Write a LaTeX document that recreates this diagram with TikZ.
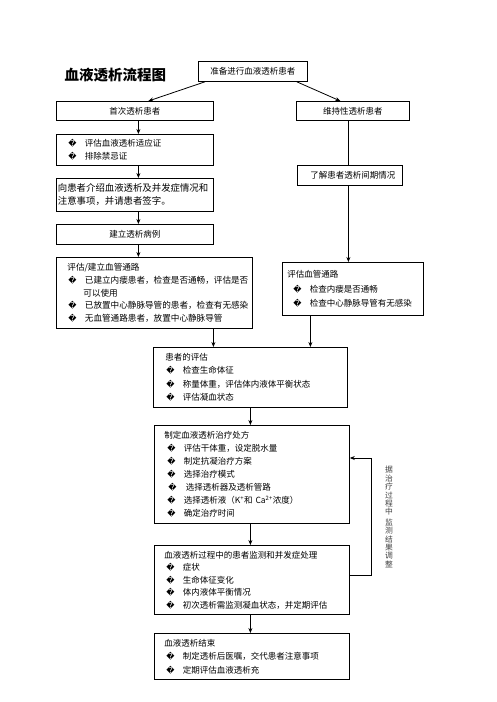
\documentclass[tikz,border=0pt]{standalone}
\usepackage{fontspec}
\setmainfont{Noto Sans CJK SC}
\newfontfamily\dejavu{DejaVu Sans}
\usetikzlibrary{arrows.meta,calc}
\newcommand\bul[1][2pt]{\hspace*{#1}\makebox[16.5pt][l]{\dejavu\fontsize{8}{8}\selectfont �}}
\begin{document}
\begin{tikzpicture}[x=1pt,y=-1pt,
  box/.style={draw,line width=0.8pt,anchor=north west,inner ysep=0pt,font=\fontsize{8.5}{13}\selectfont},
  cbox/.style={box,align=center,inner xsep=0pt},
  lbox/.style={box,align=left},
  arr/.style={line width=0.8pt,-{Stealth[length=5pt,width=4pt]}},
  ln/.style={line width=0.8pt}]
\useasboundingbox (0,0) rectangle (497,702);
\node[anchor=west,font=\fontsize{14.5}{15}\selectfont\bfseries] (title) at (61,75) {血液透析流程图};
\node[cbox,minimum width=109pt,minimum height=20pt] (start) at (198,61) {准备进行血液透析患者};
\node[cbox,minimum width=157pt,minimum height=19pt] (first) at (56,101) {首次透析患者};
\node[cbox,minimum width=113pt,minimum height=19pt] (maint) at (296,101) {维持性透析患者};
\node[lbox,inner xsep=10pt,text width=137pt,minimum height=31pt] (eval1) at (56,134)
  {\bul[2pt]评估血液透析适应证\\\bul[2pt]排除禁忌证};
\node[lbox,inner xsep=1.5pt,text width=154pt,minimum height=33pt,font=\fontsize{9.4}{13}\selectfont] (intro) at (56,178)
  {向患者介绍血液透析及并发症情况和\\注意事项，并请患者签字。};
\node[cbox,minimum width=157pt,minimum height=20pt] (record) at (56,224) {建立透析病例};
\node[cbox,minimum width=105pt,minimum height=20pt] (learn) at (297,165) {\hspace*{6pt}了解患者透析间期情况};
\node[lbox,inner xsep=2pt,text width=192pt,minimum height=71pt,font=\fontsize{8.6}{12.8}\selectfont] (acc1) at (56,257)
  {\hspace*{9pt}评估/建立血管通路\\\bul[10pt]已建立内瘘患者，检查是否通畅，评估是否\\\hspace*{25pt}可以使用\\\bul[10pt]已放置中心静脉导管的患者，检查有无感染\\\bul[10pt]无血管通路患者，放置中心静脉导管};
\node[lbox,inner xsep=5pt,text width=131pt,minimum height=53pt,font=\fontsize{8.5}{14.5}\selectfont] (acc2) at (282,262)
  {评估血管通路\\\bul[6pt]检查内瘘是否通畅\\\bul[6pt]检查中心静脉导管有无感染};
\node[lbox,inner xsep=12pt,text width=170pt,minimum height=60pt,font=\fontsize{8.5}{13.5}\selectfont] (peval) at (153,347)
  {患者的评估\\\bul[1pt]检查生命体征\\\bul[1pt]称量体重，评估体内液体平衡状态\\\bul[1pt]评估凝血状态};
\node[lbox,inner xsep=10pt,text width=175pt,minimum height=98pt] (rx) at (154,425)
  {制定血液透析治疗处方\\\bul[3pt]评估干体重，设定脱水量\\\bul[3pt]制定抗凝治疗方案\\\bul[3pt]选择治疗模式\\\bul[4pt]\hspace*{1pt}选择透析器及透析管路\\\bul[3pt]选择透析液（K\textsuperscript{+}和 Ca\textsuperscript{2+}浓度）\\\bul[3pt]确定治疗时间};
\node[lbox,inner xsep=10pt,text width=175pt,minimum height=69pt,font=\fontsize{8.5}{12.5}\selectfont] (mon) at (154,545)
  {血液透析过程中的患者监测和并发症处理\\\bul[2pt]症状\\\bul[2pt]生命体征变化\\\bul[2pt]体内液体平衡情况\\\bul[2pt]初次透析需监测凝血状态，并定期评估};
\node[lbox,inner xsep=10pt,text width=175pt,minimum height=46pt,font=\fontsize{8.5}{13.5}\selectfont] (fin) at (154,633)
  {血液透析结束\\\bul[2pt]制定透析后医嘱，交代患者注意事项\\\bul[2pt]定期评估血液透析充};
\node[align=center,font=\fontsize{7.8}{8.4}\selectfont,inner sep=0pt,text=black!75] (vtext) at (389,517)
  {据\\治\\疗\\过\\程\\中\\[2pt]监\\测\\结\\果\\调\\整};
% connector reference coordinates
\coordinate (lx) at ([xshift=3.5pt]first.south);
\coordinate (rxx) at ([xshift=-4.5pt]maint.south);
\coordinate (ax1) at ([xshift=59pt]acc1.south);
\coordinate (ax2) at ([xshift=-42.5pt]acc2.south);
% connectors
\draw[arr] ([xshift=7pt]start.south west) -- ([xshift=13.5pt]first.north);
\draw[arr] ([xshift=-11pt]start.south east) -- ([xshift=-12.5pt]maint.north);
\draw[arr] (lx) -- (eval1.north -| lx);
\draw[arr] (eval1.south -| lx) -- (intro.north -| lx);
\draw[arr] (intro.south -| lx) -- (record.north -| lx);
\draw[arr] (record.south -| lx) -- (acc1.north -| lx);
\draw[ln] (rxx) -- (learn.north -| rxx);
\draw[arr] (learn.south -| rxx) -- (acc2.north -| rxx);
\draw[arr] (ax1) -- (peval.north -| ax1);
\draw[arr] (ax2) -- (peval.north -| ax2);
\draw[arr] (peval.south) -- (rx.north -| peval.south);
\draw[arr] (rx.south -| peval.south) -- (mon.north -| peval.south);
\draw[arr] (mon.south -| peval.south) -- (fin.north -| peval.south);
\coordinate (fbA) at ([yshift=-30pt]mon.north east);
\coordinate (fbB) at ([yshift=-33pt]rx.north east);
\draw[arr] (fbA) -- ++(22,0) |- (fbB);
\end{tikzpicture}
\end{document}
